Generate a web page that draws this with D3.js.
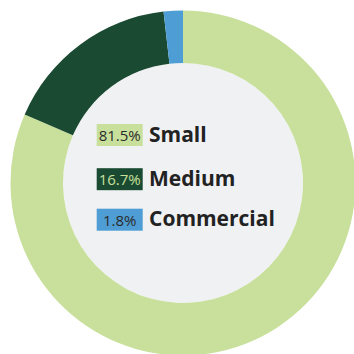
<!DOCTYPE html>
<html>
<head>
<meta charset="utf-8">
<script src="https://cdn.jsdelivr.net/npm/d3@7"></script>
<style>
  html, body { margin: 0; padding: 0; background: #ffffff; }
  svg { display: block; }
</style>
</head>
<body>
<div id="chart"></div>
<script>
// Share of units by size class
const categories = ["Small", "Medium", "Commercial"];
const shares = [81.5, 16.7, 1.8];
const labels = ["81.5%", "16.7%", "1.8%"];
const colors = ["#c8e09b", "#1a4a32", "#4f9dd5"];
const labelTextColors = ["#2b2b2b", "#c8e09b", "#2b2b2b"];

const width = 354, height = 354;
const cx = 183, cy = 183;
const outerR = 172.5, innerR = 120;

const svg = d3.select("#chart").append("svg")
  .attr("width", width)
  .attr("height", height);

const g = svg.append("g").attr("transform", `translate(${cx},${cy})`);

const data = categories.map((c, i) => ({ name: c, value: shares[i], label: labels[i], color: colors[i], tc: labelTextColors[i] }));

const pie = d3.pie().sort(null).value(d => d.value);
const arc = d3.arc().innerRadius(innerR).outerRadius(outerR);

// Centre disc
g.append("circle").attr("r", innerR).attr("fill", "#f0f1f3");

g.selectAll("path.slice")
  .data(pie(data))
  .join("path")
  .attr("class", "slice")
  .attr("d", arc)
  .attr("fill", d => d.data.color);

// Legend inside the ring
const rowCentres = [135, 179.2, 219.7];
const boxX = 96.7, boxW = 46, boxH = 22;

const rows = svg.selectAll("g.row")
  .data(data)
  .join("g")
  .attr("class", "row")
  .attr("transform", (d, i) => `translate(0,${rowCentres[i]})`);

rows.append("rect")
  .attr("x", boxX)
  .attr("y", -boxH / 2)
  .attr("width", boxW)
  .attr("height", boxH)
  .attr("fill", d => d.color);

rows.append("text")
  .attr("x", boxX + boxW / 2)
  .attr("y", 6)
  .attr("text-anchor", "middle")
  .attr("font-family", "'Open Sans', sans-serif")
  .attr("font-size", 15)
  .attr("fill", d => d.tc)
  .text(d => d.label);

rows.append("text")
  .attr("x", 149)
  .attr("y", 6.5)
  .attr("font-family", "'Open Sans', sans-serif")
  .attr("font-weight", 700)
  .attr("font-size", 21)
  .attr("fill", "#222222")
  .text(d => d.name);
</script>
</body>
</html>
